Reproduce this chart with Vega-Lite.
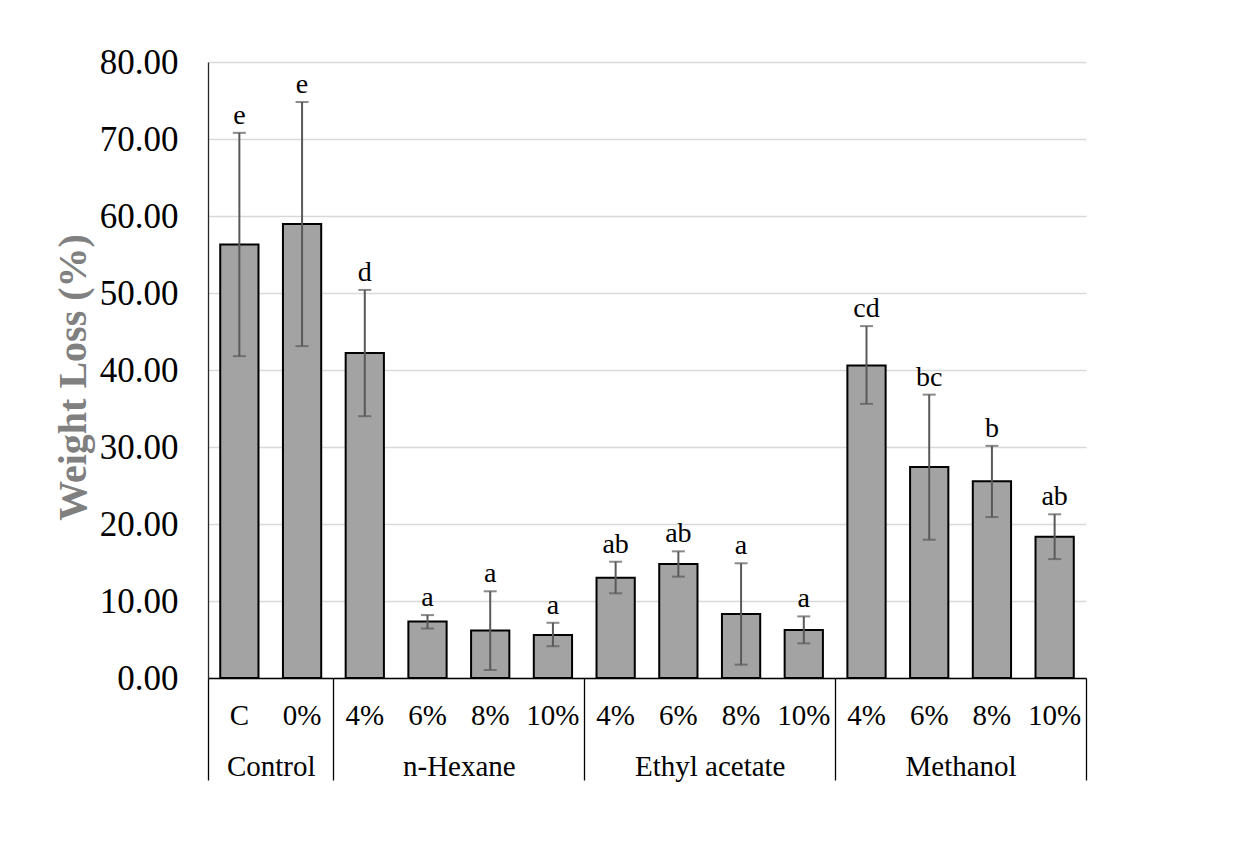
{
  "$schema": "https://vega.github.io/schema/vega-lite/v6.json",
  "autosize": "none",
  "width": 878,
  "height": 616,
  "padding": {"left": 208, "top": 62, "right": 163, "bottom": 175},
  "background": "#ffffff",
  "config": {
    "view": {"stroke": null},
    "axisY": {
      "ticks": false,
      "domainColor": "#262626",
      "domainWidth": 1.3,
      "gridColor": "#d9d9d9",
      "gridWidth": 1.5,
      "labelFont": "Liberation Serif",
      "labelFontSize": 35,
      "labelColor": "#000000",
      "labelPadding": 30,
      "titleFont": "Liberation Serif",
      "titleFontSize": 40,
      "titleFontWeight": "bold",
      "titleColor": "#808080",
      "titlePadding": 6,
      "titleY": 315
    }
  },
  "data": {
    "values": [
      {"id": "Control|C", "mean": 56.3, "lo": 41.8, "hi": 70.8, "letter": "e"},
      {"id": "Control|0%", "mean": 58.95, "lo": 43.1, "hi": 74.8, "letter": "e"},
      {"id": "n-Hexane|4%", "mean": 42.2, "lo": 34.0, "hi": 50.4, "letter": "d"},
      {"id": "n-Hexane|6%", "mean": 7.35, "lo": 6.43, "hi": 8.17, "letter": "a"},
      {"id": "n-Hexane|8%", "mean": 6.17, "lo": 1.04, "hi": 11.26, "letter": "a"},
      {"id": "n-Hexane|10%", "mean": 5.6, "lo": 4.13, "hi": 7.17, "letter": "a"},
      {"id": "Ethyl acetate|4%", "mean": 13.03, "lo": 11.0, "hi": 15.1, "letter": "ab"},
      {"id": "Ethyl acetate|6%", "mean": 14.8, "lo": 13.16, "hi": 16.45, "letter": "ab"},
      {"id": "Ethyl acetate|8%", "mean": 8.31, "lo": 1.73, "hi": 14.9, "letter": "a"},
      {"id": "Ethyl acetate|10%", "mean": 6.23, "lo": 4.5, "hi": 8.0, "letter": "a"},
      {"id": "Methanol|4%", "mean": 40.6, "lo": 35.6, "hi": 45.7, "letter": "cd"},
      {"id": "Methanol|6%", "mean": 27.4, "lo": 17.96, "hi": 36.8, "letter": "bc"},
      {"id": "Methanol|8%", "mean": 25.55, "lo": 20.9, "hi": 30.15, "letter": "b"},
      {"id": "Methanol|10%", "mean": 18.35, "lo": 15.44, "hi": 21.26, "letter": "ab"}
    ]
  },
  "resolve": {"axis": {"x": "independent"}},
  "layer": [
    {
      "mark": {"type": "bar", "fill": "#a3a3a3", "stroke": "#000000", "strokeWidth": 2, "width": {"band": 0.61}},
      "encoding": {
        "x": {
          "field": "id", "type": "nominal", "title": null,
          "scale": {"domain": ["Control|C", "Control|0%", "n-Hexane|4%", "n-Hexane|6%", "n-Hexane|8%", "n-Hexane|10%", "Ethyl acetate|4%", "Ethyl acetate|6%", "Ethyl acetate|8%", "Ethyl acetate|10%", "Methanol|4%", "Methanol|6%", "Methanol|8%", "Methanol|10%"], "paddingInner": 0, "paddingOuter": 0},
          "axis": {
            "orient": "bottom",
            "labelExpr": "isString(datum.value) ? slice(datum.value, indexof(datum.value, '|') + 1) : ''",
            "labelAngle": 0,
            "labelOverlap": false,
            "ticks": false,
            "grid": false,
            "domain": true,
            "domainColor": "#000000",
            "domainWidth": 1.3,
            "labelFont": "Liberation Serif",
            "labelFontSize": 29,
            "labelColor": "#000000",
            "labelBaseline": "top",
            "labelPadding": 23
          }
        },
        "y": {
          "field": "mean", "type": "quantitative", "title": "Weight Loss (%)",
          "scale": {"domain": [0, 80], "nice": false},
          "axis": {"values": [0, 10, 20, 30, 40, 50, 60, 70, 80], "format": ".2f"}
        }
      }
    },
    {
      "mark": {"type": "rule", "color": "#595959", "strokeWidth": 2},
      "encoding": {
        "x": {"field": "id", "type": "nominal", "axis": null},
        "y": {"field": "lo", "type": "quantitative", "title": "Weight Loss (%)"},
        "y2": {"field": "hi"}
      }
    },
    {
      "mark": {"type": "tick", "color": "#595959", "thickness": 2, "size": 13, "orient": "horizontal"},
      "encoding": {
        "x": {"field": "id", "type": "nominal", "axis": null},
        "y": {"field": "lo", "type": "quantitative", "title": "Weight Loss (%)"}
      }
    },
    {
      "mark": {"type": "tick", "color": "#595959", "thickness": 2, "size": 13, "orient": "horizontal"},
      "encoding": {
        "x": {"field": "id", "type": "nominal", "axis": null},
        "y": {"field": "hi", "type": "quantitative", "title": "Weight Loss (%)"}
      }
    },
    {
      "mark": {"type": "text", "baseline": "alphabetic", "dy": -9, "font": "Liberation Serif", "fontSize": 28, "color": "#000000"},
      "encoding": {
        "x": {
          "field": "id", "type": "nominal", "title": null,
          "axis": {
            "orient": "bottom",
            "domain": false,
            "grid": false,
            "labelAngle": 0,
            "labelOverlap": false,
            "labelExpr": "isString(datum.value) ? ((slice(datum.value, indexof(datum.value, '|') + 1) == 'C' || slice(datum.value, indexof(datum.value, '|') + 1) == '6%') ? slice(datum.value, 0, indexof(datum.value, '|')) : '') : ''",
            "labelOffset": 31.36,
            "labelFont": "Liberation Serif",
            "labelFontSize": 29,
            "labelColor": "#000000",
            "labelBaseline": "top",
            "labelPadding": -28,
            "tickBand": "extent",
            "tickSize": 102,
            "tickColor": "#000000",
            "tickWidth": 1.3,
            "tickOpacity": {"condition": {"test": "!isString(datum.value) || indexof(['Control|0%', 'n-Hexane|10%', 'Ethyl acetate|10%', 'Methanol|10%'], datum.value) >= 0", "value": 1}, "value": 0}
          }
        },
        "y": {"field": "hi", "type": "quantitative", "title": "Weight Loss (%)"},
        "text": {"field": "letter"}
      }
    }
  ]
}
